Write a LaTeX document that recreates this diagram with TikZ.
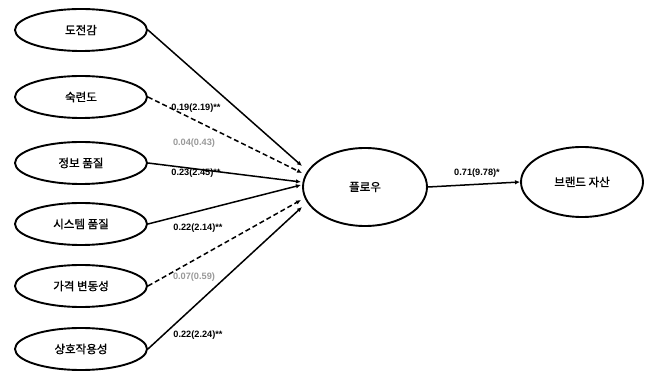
\documentclass[tikz,border=0pt]{standalone}
\usepackage{fontspec}
\newfontfamily\kr[FakeBold=1.2]{Noto Sans CJK KR}
\setmainfont{Liberation Sans}
\usetikzlibrary{shapes.geometric,arrows.meta}
\begin{document}
\begin{tikzpicture}[x=1pt,y=1pt,
  oval/.style={ellipse,draw,line width=1.9pt,minimum width=132pt,minimum height=42pt,inner sep=0pt,font=\kr\fontsize{11.5}{13}\selectfont},
  link/.style={line width=1.5pt,-{Latex[length=5pt,width=4.5pt]}},
  dlink/.style={link,dash pattern=on 5pt off 3pt},
  lab/.style={font=\bfseries\fontsize{9.2}{10}\selectfont,inner sep=0pt},
  glab/.style={lab,text=black!40}]
\useasboundingbox (0,0) rectangle (656,372);
\node[oval] (a) at (81,342) {도전감};
\node[oval] (b) at (81,275) {숙련도};
\node[oval] (c) at (81,209) {정보 품질};
\node[oval] (d) at (81,148) {시스템 품질};
\node[oval] (e) at (81,86) {가격 변동성};
\node[oval] (f) at (81,23) {상호작용성};
\node[oval,minimum width=124pt,minimum height=78pt] (flow) at (365,185) {플로우};
\node[oval,minimum width=122pt,minimum height=70pt] (brand) at (582,190) {브랜드 자산};
\coordinate (ta) at (302,206);
\coordinate (tb) at (302,199);
\coordinate (tc) at (301,190);
\coordinate (td) at (301,187);
\coordinate (te) at (301,172);
\coordinate (tf) at (302,165);
\draw[link] (a.east) -- (ta);
\draw[dlink] (b.east) -- (tb);
\draw[link] (c.east) -- (tc);
\draw[link] (d.east) -- (td);
\draw[dlink] (e.east) -- (te);
\draw[link] (f.east) -- (tf);
\draw[link] (flow.east) -- (brand.west);
\node[lab] at (196,264) {0.19(2.19)**};
\node[glab] at (194,229) {0.04(0.43)};
\node[lab] at (196,199) {0.23(2.45)**};
\node[lab] at (198,144) {0.22(2.14)**};
\node[glab] at (194,95) {0.07(0.59)};
\node[lab] at (198,37) {0.22(2.24)**};
\node[lab] at (477,199) {0.71(9.78)*};
\end{tikzpicture}
\end{document}
